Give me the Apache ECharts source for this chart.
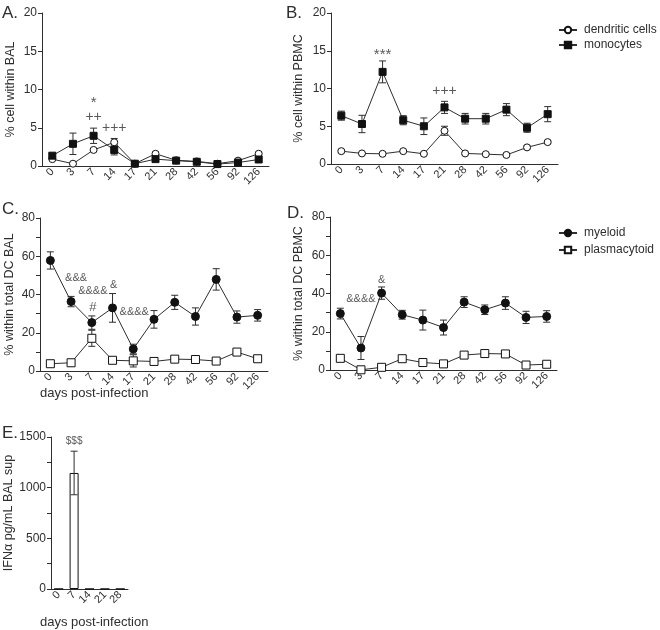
<!DOCTYPE html>
<html><head><meta charset="utf-8">
<script src="https://cdn.jsdelivr.net/npm/echarts@6/dist/echarts.min.js"></script>
<style>html,body{margin:0;padding:0;background:#fff}#c{width:660px;height:630px}</style>
</head><body><div id="c"></div>
<script>
// ---- data ----
const days = ['0','3','7','14','17','21','28','42','56','92','126'];
const daysE = ['0','7','14','21','28'];

// Panel A: % cell within BAL
const dcBal      = [0.9, 0.3, 2.1, 3.1, 0.3, 1.6, 0.75, 0.6, 0.3, 0.7, 1.6];
const dcBalErr   = [0.1, 0.1, 0.15, 0.5, 0.1, 0.2, 0.1, 0.1, 0.1, 0.1, 0.2];
const monoBal    = [1.35, 2.9, 3.95, 2.1, 0.3, 0.9, 0.7, 0.55, 0.25, 0.45, 0.85];
const monoBalErr = [0.2, 1.4, 1.0, 0.65, 0.1, 0.15, 0.1, 0.1, 0.1, 0.1, 0.15];

// Panel B: % cell within PBMC
const dcPbmc      = [1.7, 1.4, 1.35, 1.7, 1.35, 4.4, 1.4, 1.3, 1.2, 2.2, 2.9];
const dcPbmcErr   = [0.15, 0.1, 0.1, 0.1, 0.1, 0.6, 0.15, 0.1, 0.1, 0.2, 0.2];
const monoPbmc    = [6.4, 5.3, 12.2, 5.8, 5.0, 7.5, 6.0, 6.0, 7.2, 4.8, 6.6];
const monoPbmcErr = [0.6, 1.15, 1.45, 0.6, 1.1, 0.8, 0.7, 0.7, 0.8, 0.6, 1.0];

// Panel C: % within total DC BAL
const myeloidBal    = [57.8, 36.3, 25.3, 33.0, 11.5, 27.0, 35.9, 28.5, 47.9, 28.2, 29.1];
const myeloidBalErr = [4.5, 2.7, 3.5, 7.5, 2.5, 4.6, 3.7, 4.5, 5.6, 3.2, 3.0];
const plasmaBal     = [3.8, 4.3, 17.1, 5.6, 5.3, 5.0, 6.2, 6.0, 5.2, 9.9, 6.4];
const plasmaBalErr  = [0.5, 1.5, 4.2, 0.5, 3.2, 0.5, 0.5, 0.5, 0.5, 0.5, 0.5];

// Panel D: % within total DC PBMC
const myeloidPbmc    = [29.5, 11.5, 40.2, 28.9, 26.1, 22.2, 35.5, 31.5, 35.0, 27.5, 28.0];
const myeloidPbmcErr = [2.8, 6.0, 3.2, 2.3, 5.2, 3.9, 2.8, 2.5, 3.3, 3.2, 3.0];
const plasmaPbmc     = [6.1, 0.1, 1.4, 5.9, 3.9, 3.2, 7.8, 8.6, 8.4, 2.6, 3.0];
const plasmaPbmcErr  = [0.5, 0.1, 0.5, 0.5, 0.5, 0.5, 0.5, 0.5, 0.5, 0.5, 0.5];

// Panel E: IFNα pg/mL BAL sup
const ifnBal    = [0, 1145, 0, 0, 0];
const ifnBalErr = [0, 215, 0, 0, 0];

// significance annotations: [day, value, text, dx]
const annA = [['7', 8.3, '*', 0], ['7', 6.45, '++', 0], ['14', 5.0, '+++', 0]];
const annB = [['7', 14.4, '***', 0], ['21', 9.7, '+++', 0]];
const annC = [['3', 48.7, '&&&', 5], ['7', 42, '&&&&', 1], ['14', 44.8, '&', 1], ['7', 33, '#', 1], ['17', 30.8, '&&&&', 1]];
const annD = [['3', 36.9, '&&&&', 0], ['7', 47.1, '&', 0]];
const annE = [['7', 1454, '$$$', 0]];

// ---- chart ----
const FONT = "'Liberation Sans', Arial, Helvetica, sans-serif";
const INK = '#2e2e2e';
const chart = echarts.init(document.getElementById('c'));

const grids = [
  {left: 42, top: 13, width: 227, height: 153},
  {left: 331, top: 13, width: 227, height: 151},
  {left: 40, top: 218, width: 228, height: 153},
  {left: 330, top: 217, width: 227, height: 153},
  {left: 51, top: 437, width: 77, height: 152}
];

function xAx(i, cats) {
  return {type: 'category', gridIndex: i, data: cats, boundaryGap: true,
    axisLine: {lineStyle: {color: INK, width: 1}},
    axisTick: {alignWithLabel: true, length: 4, lineStyle: {color: INK}},
    axisLabel: {rotate: 45, interval: 0, margin: 4, fontSize: 11, color: INK, fontFamily: FONT},
    splitLine: {show: false}};
}
function yAx(i, max, interval, name, minor, gap) {
  return {type: 'value', gridIndex: i, min: 0, max: max, interval: interval,
    name: name, nameLocation: 'middle', nameGap: gap,
    nameTextStyle: {fontSize: 12.5, color: INK, fontFamily: FONT},
    axisLine: {show: true, lineStyle: {color: INK, width: 1}},
    axisTick: {show: true, length: 4, lineStyle: {color: INK}},
    minorTick: {show: !!minor, splitNumber: 2, length: 4, lineStyle: {color: INK}},
    axisLabel: {margin: 5, fontSize: 12, color: INK, fontFamily: FONT, formatter: v => String(v)},
    splitLine: {show: false}};
}

function errSeries(i, vals, errs) {
  return {type: 'custom', xAxisIndex: i, yAxisIndex: i, silent: true, z: 1,
    data: vals.map((v, k) => [k, v - errs[k], v + errs[k], errs[k]]),
    renderItem(params, api) {
      if (api.value(3) <= 0) return null;
      const lo = api.coord([api.value(0), api.value(1)]);
      const hi = api.coord([api.value(0), api.value(2)]);
      const x = lo[0], w = 3.5;
      const st = {stroke: INK, lineWidth: 1};
      return {type: 'group', children: [
        {type: 'line', shape: {x1: x, y1: lo[1], x2: x, y2: hi[1]}, style: st},
        {type: 'line', shape: {x1: x - w, y1: hi[1], x2: x + w, y2: hi[1]}, style: st},
        {type: 'line', shape: {x1: x - w, y1: lo[1], x2: x + w, y2: lo[1]}, style: st}
      ]};
    }};
}
function lineSeries(i, name, vals, symbol, filled, size) {
  return {type: 'line', name: name, xAxisIndex: i, yAxisIndex: i, data: vals,
    symbol: symbol, symbolSize: size, showAllSymbol: true, z: 3,
    lineStyle: {color: INK, width: 1},
    itemStyle: {color: filled ? '#111' : '#fff', borderColor: '#111', borderWidth: 1},
    emphasis: {disabled: true}, animation: false};
}
function annFont(t) {
  const c = t.charAt(0);
  if (c === '*') return 15;
  if (c === '+') return 14;
  if (c === '&') return 11;
  if (c === '$') return 10;
  return 13;
}
function annSeries(i, ann) {
  return {type: 'scatter', xAxisIndex: i, yAxisIndex: i, silent: true, z: 5,
    symbolSize: 1, itemStyle: {color: 'rgba(0,0,0,0)'},
    data: ann.map(a => ({value: [a[0], a[1]],
      label: {formatter: a[2], offset: [a[3], 0], fontSize: annFont(a[2])}})),
    label: {show: true, position: 'inside', color: INK, fontFamily: FONT}};
}

const series = [
  errSeries(0, dcBal, dcBalErr), errSeries(0, monoBal, monoBalErr),
  lineSeries(0, 'dendritic cells', dcBal, 'circle', false, 7),
  lineSeries(0, 'monocytes', monoBal, 'rect', true, 7),
  annSeries(0, annA),
  errSeries(1, dcPbmc, dcPbmcErr), errSeries(1, monoPbmc, monoPbmcErr),
  lineSeries(1, 'dendritic cells', dcPbmc, 'circle', false, 7),
  lineSeries(1, 'monocytes', monoPbmc, 'rect', true, 7),
  annSeries(1, annB),
  errSeries(2, myeloidBal, myeloidBalErr), errSeries(2, plasmaBal, plasmaBalErr),
  lineSeries(2, 'myeloid', myeloidBal, 'circle', true, 8),
  lineSeries(2, 'plasmacytoid', plasmaBal, 'rect', false, 8),
  annSeries(2, annC),
  errSeries(3, myeloidPbmc, myeloidPbmcErr), errSeries(3, plasmaPbmc, plasmaPbmcErr),
  lineSeries(3, 'myeloid', myeloidPbmc, 'circle', true, 8),
  lineSeries(3, 'plasmacytoid', plasmaPbmc, 'rect', false, 8),
  annSeries(3, annD),
  {type: 'bar', xAxisIndex: 4, yAxisIndex: 4, data: ifnBal, barWidth: 9, z: 2,
   itemStyle: {color: '#fff', borderColor: '#111', borderWidth: 1}},
  errSeries(4, ifnBal, ifnBalErr),
  annSeries(4, annE)
];
series[series.length - 2].z = 3;

const txt = (left, top, text, size) => ({type: 'text', left: left, top: top,
  style: {text: text, fontSize: size, fill: INK, fontFamily: FONT}});

chart.setOption({
  animation: false,
  backgroundColor: '#fff',
  textStyle: {fontFamily: FONT},
  grid: grids,
  xAxis: [xAx(0, days), xAx(1, days), xAx(2, days), xAx(3, days), xAx(4, daysE)],
  yAxis: [
    yAx(0, 20, 5, '% cell within BAL', false, 25),
    yAx(1, 20, 5, '% cell within PBMC', false, 26),
    yAx(2, 80, 20, '% within total DC BAL', true, 24),
    yAx(3, 80, 20, '% within total DC PBMC', true, 25),
    yAx(4, 1500, 500, 'IFNα pg/mL BAL sup', true, 30)
  ],
  legend: [
    {data: ['dendritic cells', 'monocytes'], orient: 'vertical', left: 553, top: 19,
     itemWidth: 18, itemHeight: 8, itemGap: 3, selectedMode: false,
     textStyle: {fontSize: 12, color: INK, fontFamily: FONT, padding: [0, 0, 0, 2]}},
    {data: ['myeloid', 'plasmacytoid'], orient: 'vertical', left: 553, top: 222,
     itemWidth: 18, itemHeight: 8, itemGap: 5, selectedMode: false,
     textStyle: {fontSize: 12, color: INK, fontFamily: FONT, padding: [0, 0, 0, 2]}}
  ],
  graphic: [
    txt(2, 5, 'A.', 17), txt(286, 5, 'B.', 17), txt(2, 201, 'C.', 17),
    txt(287, 205, 'D.', 17), txt(2, 425, 'E.', 17),
    txt(40, 387, 'days post-infection', 13),
    txt(40, 616, 'days post-infection', 13)
  ],
  series: series
});
</script></body></html>
